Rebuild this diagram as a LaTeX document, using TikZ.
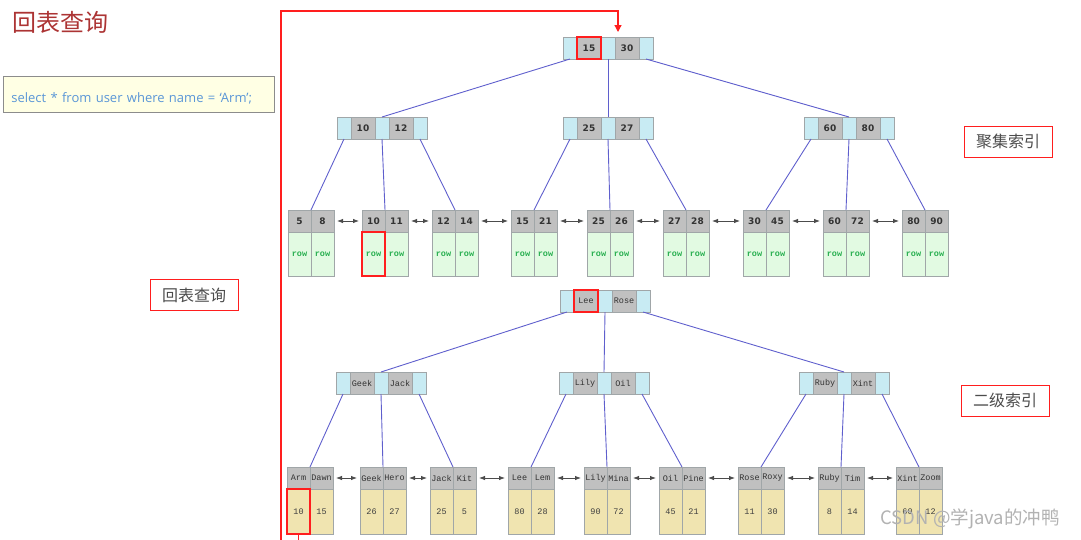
\documentclass[tikz,border=0pt]{standalone}
\usepackage{fontspec}
\setmainfont{Liberation Sans}
\newfontfamily\cjk{Noto Sans CJK SC}
\newfontfamily\numfont{DejaVu Sans}
\newfontfamily\monofont{Liberation Mono}
\newfontfamily\sqlfont{Open Sans}
\usepackage{xcolor}
\usetikzlibrary{positioning,arrows.meta}

\definecolor{ptrblue}{RGB}{200,235,243}
\definecolor{keygray}{RGB}{192,192,192}
\definecolor{cellline}{RGB}{160,166,168}
\definecolor{rowgreen}{RGB}{226,250,226}
\definecolor{rowtext}{RGB}{40,175,80}
\definecolor{valyellow}{RGB}{240,228,176}
\definecolor{linkblue}{RGB}{95,95,205}
\definecolor{titlered}{RGB}{172,52,52}
\definecolor{sqlblue}{RGB}{90,150,215}
\definecolor{sqlfill}{RGB}{255,255,228}
\definecolor{hired}{RGB}{255,30,30}

\begin{document}
\begin{tikzpicture}[x=1pt,y=-1pt,
    cell/.style={draw=cellline,line width=0.8pt,inner sep=0pt,outer sep=0pt,minimum height=22pt},
    ptr/.style={cell,fill=ptrblue,minimum width=14pt},
    ikey/.style={cell,fill=keygray,minimum width=24pt,text=black!80,font=\numfont\bfseries\fontsize{9}{9}\selectfont},
    nkey/.style={cell,fill=keygray,minimum width=24pt,text=black!80,font=\monofont\fontsize{8.5}{8.5}\selectfont},
    lkey/.style={cell,fill=keygray,minimum width=23pt,text=black!80,font=\numfont\bfseries\fontsize{9}{9}\selectfont},
    lname/.style={cell,fill=keygray,minimum width=23pt,text=black!80,font=\monofont\fontsize{8.5}{8.5}\selectfont},
    lrow/.style={cell,fill=rowgreen,minimum width=23pt,minimum height=44pt,text=rowtext,font=\monofont\bfseries\fontsize{8.5}{8.5}\selectfont},
    lval/.style={cell,fill=valyellow,minimum width=23pt,minimum height=45pt,text=black!75,font=\monofont\fontsize{8.5}{8.5}\selectfont},
    link/.style={draw=linkblue,line width=0.9pt},
    sib/.style={{Latex[length=6pt,width=4.5pt]}-{Latex[length=6pt,width=4.5pt]},draw=black!70,line width=0.8pt,shorten <=3pt,shorten >=3pt},
    hilite/.style={draw=hired,line width=1.2pt},
    tagbox/.style={draw=hired,line width=1pt,minimum width=88pt,minimum height=31pt,text=black!70,font=\cjk\fontsize{16}{16}\selectfont},
    back/.style={draw=hired,line width=1.2pt,-{Triangle[length=7pt,width=7pt]}}
]
\useasboundingbox (0,0) rectangle (1081,539);

% title and query
\node[anchor=west,text=titlered,font=\cjk\fontsize{24}{24}\selectfont] (title) at (9,22) {回表查询};
\node[draw=black!45,fill=sqlfill,line width=0.8pt,anchor=north west,minimum width=271pt,minimum height=36pt,
      text width=255pt,inner xsep=8pt,align=left,text height=16pt,text depth=0pt,
      text=sqlblue,font=\sqlfont\fontsize{13}{14}\selectfont]
      (sql) at (3,76) {select * from user where name = ‘Arm’;};
\node[tagbox] (btag) at (194,295) {回表查询};
\node[tagbox] (ctag) at (1008,141.5) {聚集索引};
\node[tagbox] (stag) at (1005,400.5) {二级索引};

% clustered index: inner nodes
\foreach \n/\x/\y/\a/\b in {croot/563/37/15/30, cleft/337/117/10/12, cmid/563/117/25/27, cright/804/117/60/80} {
    \node[ptr,anchor=north west] (\n-p1) at (\x,\y) {};
    \node[ikey,right=0pt of \n-p1] (\n-k1) {\a};
    \node[ptr,right=0pt of \n-k1] (\n-p2) {};
    \node[ikey,right=0pt of \n-p2] (\n-k2) {\b};
    \node[ptr,right=0pt of \n-k2] (\n-p3) {};
}
% clustered index: leaves
\foreach \i/\x/\a/\b in {1/288/5/8, 2/362/10/11, 3/432/12/14, 4/511/15/21, 5/587/25/26,
                         6/663/27/28, 7/743/30/45, 8/823/60/72, 9/902/80/90} {
    \node[lkey,anchor=north west] (cleaf\i-k1) at (\x,210) {\a};
    \node[lkey,right=0pt of cleaf\i-k1] (cleaf\i-k2) {\b};
    \node[lrow,below=0pt of cleaf\i-k1] (cleaf\i-d1) {row};
    \node[lrow,below=0pt of cleaf\i-k2] (cleaf\i-d2) {row};
}
\draw[link] (croot-p1.south) -- (cleft-p2.north);
\draw[link] (croot-p2.south) -- (cmid-p2.north);
\draw[link] (croot-p3.south) -- (cright-p2.north);
\foreach \n/\a/\b/\c in {cleft/1/2/3, cmid/4/5/6, cright/7/8/9} {
    \draw[link] (\n-p1.south) -- (cleaf\a-k1.north east);
    \draw[link] (\n-p2.south) -- (cleaf\b-k1.north east);
    \draw[link] (\n-p3.south) -- (cleaf\c-k1.north east);
}
\foreach \i [count=\j from 2] in {1,...,8} {
    \draw[sib] (cleaf\i-k2.east) -- (cleaf\j-k1.west);
}

% secondary index: inner nodes
\foreach \n/\x/\y/\a/\b in {sroot/560/290/Lee/Rose, sleft/336/372/Geek/Jack, smid/559/372/Lily/Oil, sright/799/372/Ruby/Xint} {
    \node[ptr,anchor=north west] (\n-p1) at (\x,\y) {};
    \node[nkey,right=0pt of \n-p1] (\n-k1) {\a};
    \node[ptr,right=0pt of \n-k1] (\n-p2) {};
    \node[nkey,right=0pt of \n-p2] (\n-k2) {\b};
    \node[ptr,right=0pt of \n-k2] (\n-p3) {};
}
% secondary index: leaves
\foreach \i/\x/\a/\b/\u/\v in {1/287/Arm/Dawn/10/15, 2/360/Geek/Hero/26/27, 3/430/Jack/Kit/25/5,
                               4/508/Lee/Lem/80/28, 5/584/Lily/Mina/90/72, 6/659/Oil/Pine/45/21,
                               7/738/Rose/Roxy/11/30, 8/818/Ruby/Tim/8/14, 9/896/Xint/Zoom/60/12} {
    \node[lname,anchor=north west] (sleaf\i-k1) at (\x,467) {\a};
    \node[lname,right=0pt of sleaf\i-k1] (sleaf\i-k2) {\b};
    \node[lval,below=0pt of sleaf\i-k1] (sleaf\i-d1) {\u};
    \node[lval,below=0pt of sleaf\i-k2] (sleaf\i-d2) {\v};
}
\draw[link] (sroot-p1.south) -- (sleft-p2.north);
\draw[link] (sroot-p2.south) -- (smid-p2.north);
\draw[link] (sroot-p3.south) -- (sright-p2.north);
\foreach \n/\a/\b/\c in {sleft/1/2/3, smid/4/5/6, sright/7/8/9} {
    \draw[link] (\n-p1.south) -- (sleaf\a-k1.north east);
    \draw[link] (\n-p2.south) -- (sleaf\b-k1.north east);
    \draw[link] (\n-p3.south) -- (sleaf\c-k1.north east);
}
\foreach \i [count=\j from 2] in {1,...,8} {
    \draw[sib] (sleaf\i-k2.east) -- (sleaf\j-k1.west);
}

% search path
\draw[hilite] (croot-k1.north west) rectangle (croot-k1.south east);
\draw[hilite] (cleaf2-d1.north west) rectangle (cleaf2-d1.south east);
\draw[hilite] (sroot-k1.north west) rectangle (sroot-k1.south east);
\draw[hilite] (sleaf1-d1.north west) rectangle (sleaf1-d1.south east);
\coordinate (bend) at (281,11);
\coordinate (backin) at (618,32);
\draw[back] (sleaf1-d1.south) -- ++(0,20) -| (bend) -| (backin);

\node[anchor=west,text=black!30,font=\cjk\fontsize{18.5}{18.5}\selectfont] (mark) at (877,519) {CSDN @学java的冲鸭};
\end{tikzpicture}
\end{document}
